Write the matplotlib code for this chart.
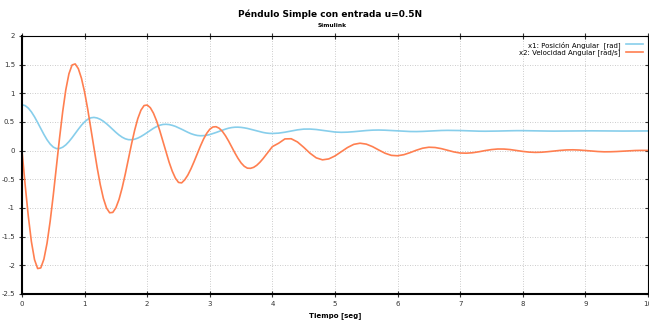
import numpy as np
import matplotlib
matplotlib.use("Agg")
import matplotlib.pyplot as plt

# tiempo: 0.05 s hasta 4 s, luego 0.1 s
tiempo = np.round(np.concatenate([np.arange(0, 4.0001, 0.05), np.arange(4.1, 10.0001, 0.1)]), 2)

# x1: posicion angular [rad]
x1 = [0.800, 0.786, 0.743, 0.676, 0.590, 0.490, 0.385, 0.283, 0.190, 0.115,
      0.062, 0.036, 0.038, 0.060, 0.101, 0.158, 0.226, 0.300, 0.374, 0.444,
      0.503, 0.547, 0.573, 0.580, 0.570, 0.547, 0.513, 0.470, 0.421, 0.369,
      0.319, 0.273, 0.235, 0.207, 0.192, 0.191, 0.200, 0.219, 0.247, 0.280,
      0.317, 0.355, 0.390, 0.420, 0.443, 0.457, 0.460, 0.455, 0.442, 0.424,
      0.400, 0.374, 0.346, 0.320, 0.296, 0.278, 0.265, 0.260, 0.262, 0.269,
      0.281, 0.298, 0.317, 0.337, 0.357, 0.376, 0.392, 0.403, 0.409, 0.410,
      0.406, 0.398, 0.388, 0.374, 0.360, 0.344, 0.330, 0.318, 0.308, 0.302,
      0.300,
      0.306, 0.322, 0.343, 0.363, 0.376, 0.377, 0.369, 0.354, 0.338, 0.325,
      0.320, 0.323, 0.331, 0.341, 0.351, 0.358, 0.360, 0.357, 0.351, 0.344,
      0.338, 0.334, 0.333, 0.336, 0.341, 0.347, 0.352, 0.354, 0.353, 0.351,
      0.347, 0.343, 0.340, 0.339, 0.340, 0.342, 0.345, 0.347, 0.349, 0.349,
      0.347, 0.345, 0.343, 0.342, 0.341, 0.342, 0.343, 0.344, 0.345, 0.346,
      0.346, 0.345, 0.344, 0.343, 0.342, 0.342, 0.342, 0.343, 0.344, 0.344]

# x2: velocidad angular [rad/s]
x2 = [0.000, -0.594, -1.137, -1.586, -1.901, -2.056, -2.045, -1.892, -1.614, -1.230,
      -0.772, -0.275, 0.222, 0.680, 1.064, 1.342, 1.495, 1.513, 1.430, 1.262,
      1.021, 0.722, 0.388, 0.042, -0.292, -0.591, -0.832, -1.000, -1.083, -1.077,
      -0.996, -0.850, -0.648, -0.407, -0.145, 0.117, 0.358, 0.560, 0.706, 0.787,
      0.796, 0.749, 0.654, 0.519, 0.352, 0.167, -0.022, -0.201, -0.357, -0.478,
      -0.554, -0.562, -0.508, -0.424, -0.314, -0.188, -0.053, 0.080, 0.202, 0.301,
      0.374, 0.413, 0.418, 0.391, 0.338, 0.261, 0.168, 0.065, -0.038, -0.133,
      -0.214, -0.272, -0.305, -0.308, -0.291, -0.255, -0.203, -0.140, -0.069, 0.003,
      0.071,
      0.130, 0.205, 0.208, 0.152, 0.059, -0.044, -0.125, -0.160, -0.144, -0.092,
      -0.019, 0.055, 0.110, 0.130, 0.114, 0.070, 0.011, -0.045, -0.082, -0.089,
      -0.070, -0.034, 0.008, 0.043, 0.060, 0.055, 0.035, 0.006, -0.022, -0.041,
      -0.044, -0.036, -0.019, 0.002, 0.019, 0.029, 0.028, 0.019, 0.003, -0.013,
      -0.025, -0.030, -0.027, -0.018, -0.006, 0.005, 0.013, 0.015, 0.011, 0.003,
      -0.006, -0.015, -0.020, -0.019, -0.015, -0.009, -0.002, 0.003, 0.005, 0.004]

xticks = [0, 1, 2, 3, 4, 5, 6, 7, 8, 9, 10]
xtick_labels = ["0", "1", "2", "3", "4", "5", "6", "7", "8", "9", "10"]
yticks = [2, 1.5, 1, 0.5, 0, -0.5, -1, -1.5, -2, -2.5]
ytick_labels = ["2", "1.5", "1", "0.5", "0", "-0.5", "-1", "-1.5", "-2", "-2.5"]

fig = plt.figure(figsize=(6.49, 3.22), dpi=100)
ax = fig.add_axes([22 / 649, 28 / 322, 626 / 649, 258 / 322])

ax.plot(tiempo, x1, color="#87ceeb", lw=1.2, label="x1: Posición Angular  [rad]")
ax.plot(tiempo, x2, color="#ff7f50", lw=1.2, label="x2: Velocidad Angular [rad/s]")

ax.set_xlim(0, 10)
ax.set_ylim(-2.5, 2)
ax.set_xticks(xticks)
ax.set_xticklabels(xtick_labels)
ax.set_yticks(yticks)
ax.set_yticklabels(ytick_labels)
ax.tick_params(direction="inout", length=4, width=0.8, labelsize=5, colors="#333333",
               top=True, right=True, pad=3)
ax.grid(True, color="#bbbbbb", ls=(0, (1, 2)), lw=0.6)

for s in ["left", "bottom"]:
    ax.spines[s].set_linewidth(1.5)
for s in ["top", "right"]:
    ax.spines[s].set_linewidth(0.8)

ax.set_xlabel("Tiempo [seg]", fontsize=5, fontweight="bold", labelpad=4)

leg = ax.legend(loc="upper right", frameon=False, fontsize=5, markerfirst=False,
                handlelength=2.5, borderaxespad=0.3, labelspacing=0.1)

fig.text(0.508, 0.955, "Péndulo Simple con entrada u=0.5N", ha="center", va="center",
         fontsize=6.5, fontweight="bold")
fig.text(0.512, 0.922, "Simulink", ha="center", va="center", fontsize=4.2, fontweight="bold")

fig.savefig("out.png", dpi=100)
